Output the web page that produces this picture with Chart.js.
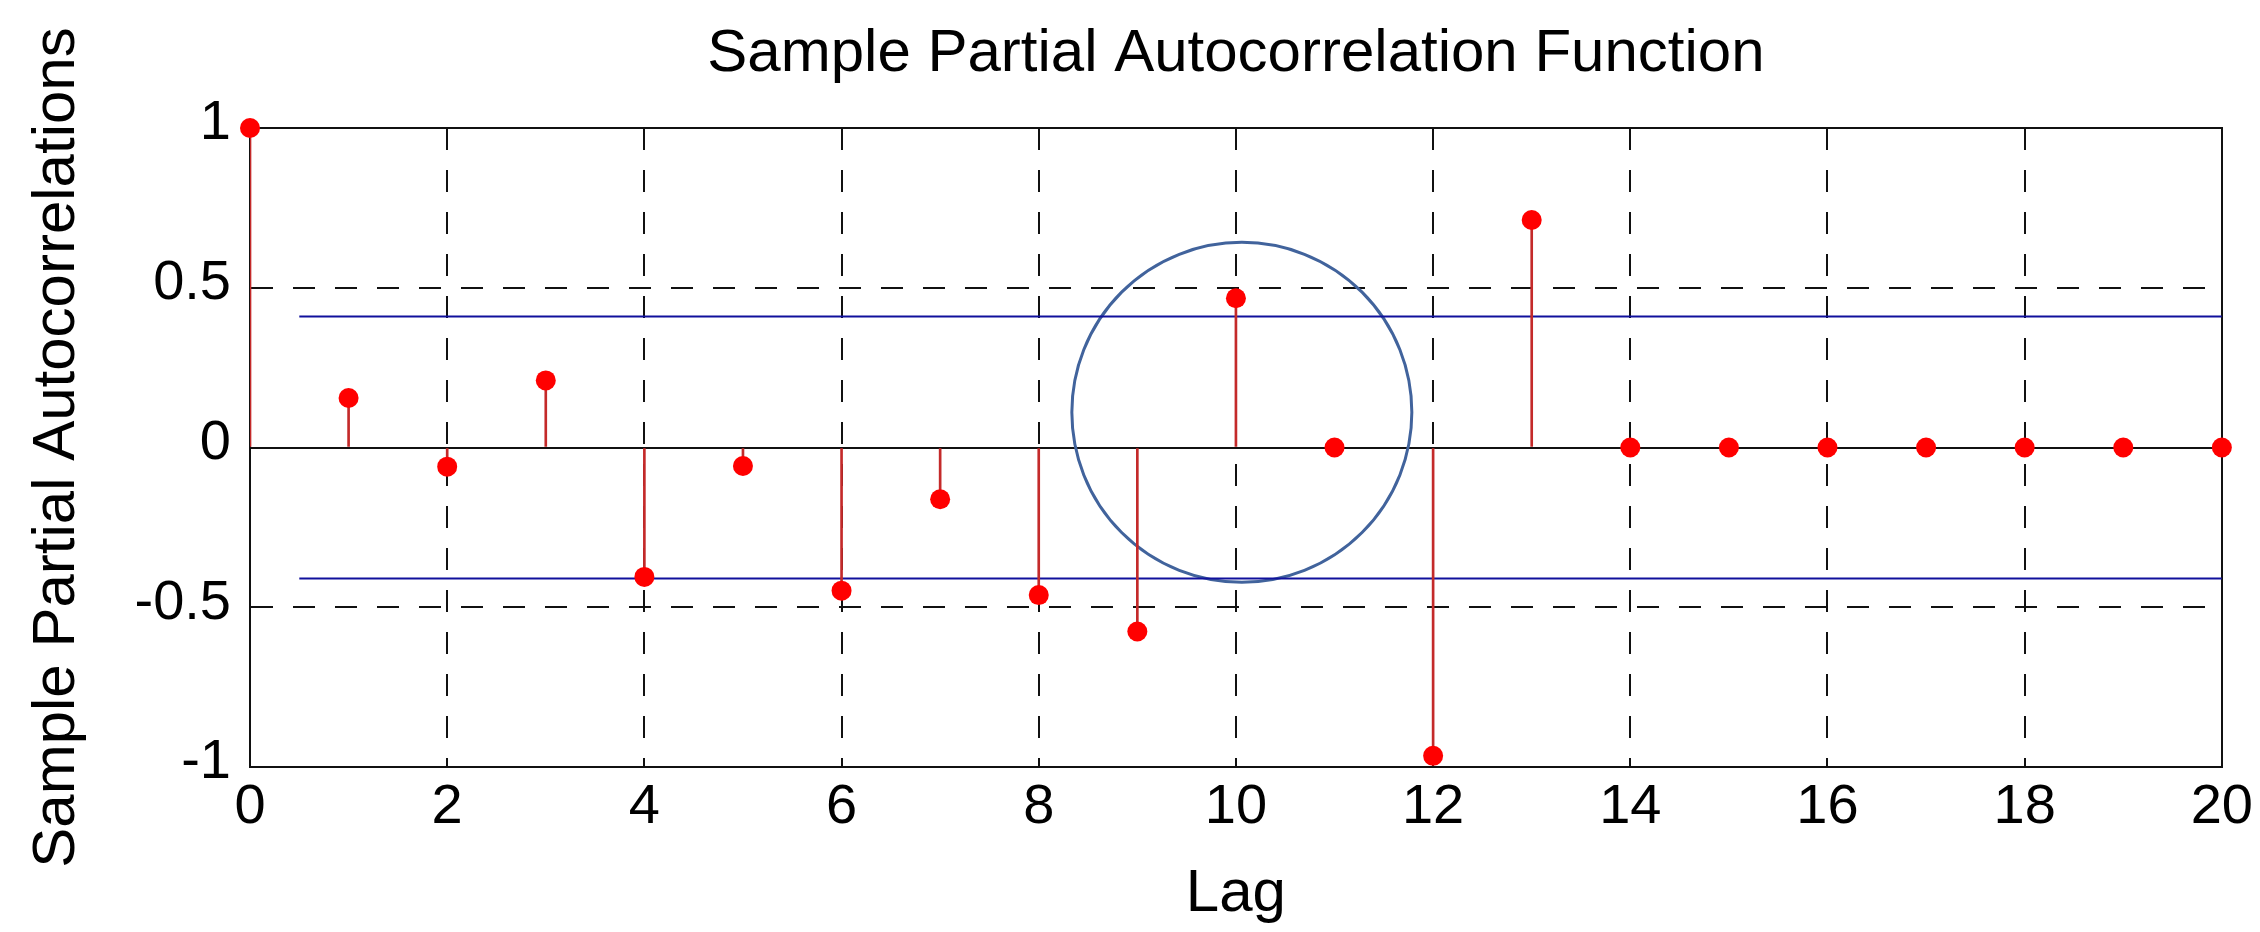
<!DOCTYPE html>
<html>
<head>
<meta charset="utf-8">
<script src="https://cdn.jsdelivr.net/npm/chart.js@4"></script>
<style>
  html, body { margin: 0; padding: 0; background: #fff; }
  #wrap { width: 2260px; height: 932px; }
</style>
</head>
<body>
<div id="wrap"><canvas id="chart" width="2260" height="932"></canvas></div>
<script>
// lags and sample partial autocorrelations
const lags = [0, 1, 2, 3, 4, 5, 6, 7, 8, 9, 10, 11, 12, 13, 14, 15, 16, 17, 18, 19, 20];
const pacf = [1, 0.155, -0.06, 0.21, -0.405, -0.058, -0.448, -0.162, -0.462, -0.576,
              0.467, 0, -0.965, 0.712, 0, 0, 0, 0, 0, 0, 0];

// confidence bounds
const boundLags = [0.5, 20];
const upperBound = [0.41, 0.41];
const lowerBound = [-0.41, -0.41];

// highlighted region (centre of the circle)
const circleLag = [10.06];
const circleValue = [0.11];

const xTicks = [0, 2, 4, 6, 8, 10, 12, 14, 16, 18, 20];
const yTicks = [-1, -0.5, 0, 0.5, 1];

const font = 'Liberation Sans, Arial, Helvetica, sans-serif';
const pts = (xs, ys) => xs.map((x, i) => ({ x, y: ys[i] }));

Chart.defaults.font.family = font;
Chart.defaults.color = '#000';

new Chart(document.getElementById('chart'), {
  type: 'bar',
  data: {
    datasets: [
      {
        type: 'line',
        data: pts(lags, pacf),
        showLine: false,
        pointRadius: 10,
        pointBackgroundColor: '#ff0000',
        pointBorderWidth: 0,
        clip: false,
        order: 0
      },
      {
        type: 'bar',
        data: pts(lags, pacf),
        backgroundColor: '#c42a2a',
        barThickness: 2,
        borderWidth: 0,
        order: 1
      },
      {
        type: 'line',
        data: pts(boundLags, upperBound),
        borderColor: '#10109c',
        borderWidth: 2,
        pointRadius: 0,
        order: 2
      },
      {
        type: 'line',
        data: pts(boundLags, lowerBound),
        borderColor: '#10109c',
        borderWidth: 2,
        pointRadius: 0,
        order: 2
      },
      {
        type: 'line',
        data: pts(circleLag, circleValue),
        showLine: false,
        pointRadius: 170,
        pointBackgroundColor: 'rgba(0,0,0,0)',
        pointBorderColor: '#41639c',
        pointBorderWidth: 3,
        clip: false,
        order: 3
      }
    ]
  },
  options: {
    responsive: false,
    animation: false,
    layout: { autoPadding: false, padding: { left: 0, right: 34, top: 0, bottom: 0 } },
    plugins: {
      legend: { display: false },
      tooltip: { enabled: false },
      title: {
        display: true,
        fullSize: false,
        text: 'Sample Partial Autocorrelation Function',
        color: '#000',
        font: { size: 60, weight: 'normal' },
        padding: { top: 18, bottom: 38 }
      }
    },
    scales: {
      x: {
        type: 'linear',
        position: 'bottom',
        min: 0,
        max: 20,
        offset: false,
        afterFit: s => { s.height = 165; },
        afterBuildTicks: s => { s.ticks = xTicks.map(v => ({ value: v })); },
        ticks: { font: { size: 56 }, padding: 7, maxRotation: 0, autoSkip: false },
        grid: {
          offset: false,
          drawTicks: false,
          color: '#111',
          lineWidth: 2
        },
        border: { display: true, color: '#111', width: 2, dash: [22, 20] },
        title: {
          display: true,
          text: 'Lag',
          font: { size: 60 },
          padding: { top: 0, bottom: 2 }
        }
      },
      y: {
        type: 'linear',
        position: 'left',
        min: -1,
        max: 1,
        afterFit: s => { s.width = 250; },
        afterBuildTicks: s => { s.ticks = yTicks.map(v => ({ value: v })); },
        ticks: { font: { size: 56 }, padding: 19, labelOffset: -4, callback: v => String(v) },
        grid: {
          drawTicks: false,
          color: '#111',
          lineWidth: 2
        },
        border: {
          display: true, color: '#111', width: 2,
          dash: ctx => (ctx.tick && ctx.tick.value === 0) ? [] : [22, 20]
        },
        title: {
          display: true,
          text: 'Sample Partial Autocorrelations',
          font: { size: 60 },
          padding: { top: 21, bottom: 0 }
        }
      },
      x2: {
        type: 'linear',
        position: 'top',
        min: 0,
        max: 20,
        afterFit: s => { s.height = 0; },
        ticks: { display: false },
        grid: { drawOnChartArea: false, drawTicks: false },
        border: { display: true, color: '#111', width: 2 }
      },
      y2: {
        type: 'linear',
        position: 'right',
        min: -1,
        max: 1,
        afterFit: s => { s.width = 0; },
        ticks: { display: false },
        grid: { drawOnChartArea: false, drawTicks: false },
        border: { display: true, color: '#111', width: 2 }
      }
    }
  }
});
</script>
</body>
</html>
